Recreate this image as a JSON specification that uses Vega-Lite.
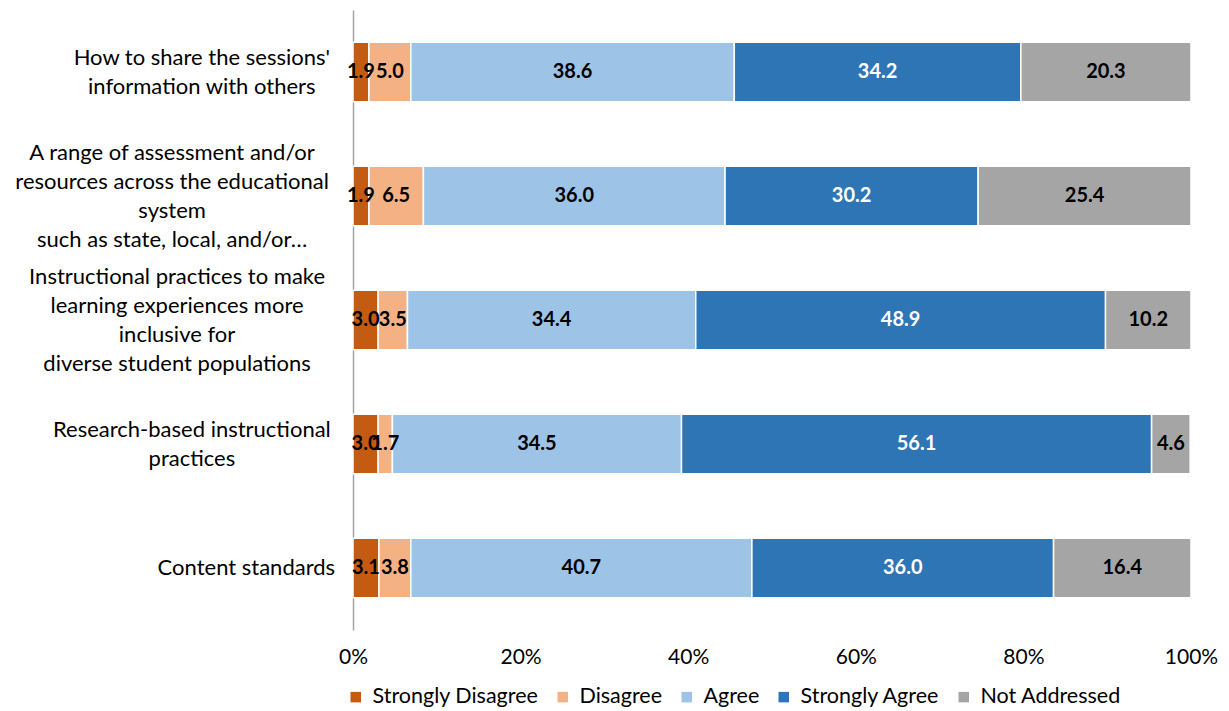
{
  "$schema": "https://vega.github.io/schema/vega-lite/v6.json",
  "autosize": {"type": "none"},
  "padding": {"left": 353, "top": 10, "right": 38, "bottom": 81},
  "width": 838,
  "height": 620,
  "background": "white",
  "config": {
    "view": {"stroke": null},
    "font": "Lato",
    "axis": {"labelFont": "Lato", "labelColor": "#000000"},
    "legend": {"labelFont": "Lato"}
  },
  "data": {
    "values": [
      {"q": "How to share the sessions'|information with others", "cat": "Strongly Disagree", "k": 1, "v": 1.9},
      {"q": "How to share the sessions'|information with others", "cat": "Disagree", "k": 2, "v": 5.0},
      {"q": "How to share the sessions'|information with others", "cat": "Agree", "k": 3, "v": 38.6},
      {"q": "How to share the sessions'|information with others", "cat": "Strongly Agree", "k": 4, "v": 34.2},
      {"q": "How to share the sessions'|information with others", "cat": "Not Addressed", "k": 5, "v": 20.3},
      {"q": "A range of assessment and/or|resources across the educational|system|such as state, local, and/or…", "cat": "Strongly Disagree", "k": 1, "v": 1.9},
      {"q": "A range of assessment and/or|resources across the educational|system|such as state, local, and/or…", "cat": "Disagree", "k": 2, "v": 6.5},
      {"q": "A range of assessment and/or|resources across the educational|system|such as state, local, and/or…", "cat": "Agree", "k": 3, "v": 36.0},
      {"q": "A range of assessment and/or|resources across the educational|system|such as state, local, and/or…", "cat": "Strongly Agree", "k": 4, "v": 30.2},
      {"q": "A range of assessment and/or|resources across the educational|system|such as state, local, and/or…", "cat": "Not Addressed", "k": 5, "v": 25.4},
      {"q": "Instructional practices to make|learning experiences more|inclusive for|diverse student populations", "cat": "Strongly Disagree", "k": 1, "v": 3.0},
      {"q": "Instructional practices to make|learning experiences more|inclusive for|diverse student populations", "cat": "Disagree", "k": 2, "v": 3.5},
      {"q": "Instructional practices to make|learning experiences more|inclusive for|diverse student populations", "cat": "Agree", "k": 3, "v": 34.4},
      {"q": "Instructional practices to make|learning experiences more|inclusive for|diverse student populations", "cat": "Strongly Agree", "k": 4, "v": 48.9},
      {"q": "Instructional practices to make|learning experiences more|inclusive for|diverse student populations", "cat": "Not Addressed", "k": 5, "v": 10.2},
      {"q": "Research-based instructional|practices", "cat": "Strongly Disagree", "k": 1, "v": 3.0},
      {"q": "Research-based instructional|practices", "cat": "Disagree", "k": 2, "v": 1.7},
      {"q": "Research-based instructional|practices", "cat": "Agree", "k": 3, "v": 34.5},
      {"q": "Research-based instructional|practices", "cat": "Strongly Agree", "k": 4, "v": 56.1},
      {"q": "Research-based instructional|practices", "cat": "Not Addressed", "k": 5, "v": 4.6},
      {"q": "Content standards", "cat": "Strongly Disagree", "k": 1, "v": 3.1},
      {"q": "Content standards", "cat": "Disagree", "k": 2, "v": 3.8},
      {"q": "Content standards", "cat": "Agree", "k": 3, "v": 40.7},
      {"q": "Content standards", "cat": "Strongly Agree", "k": 4, "v": 36.0},
      {"q": "Content standards", "cat": "Not Addressed", "k": 5, "v": 16.4}
    ]
  },
  "transform": [
    {"stack": "v", "groupby": ["q"], "sort": [{"field": "k", "order": "ascending"}], "as": ["x0", "x1"]},
    {"calculate": "(datum.x0 + datum.x1) / 2", "as": "xm"}
  ],
  "encoding": {
    "y": {
      "field": "q",
      "type": "nominal",
      "sort": null,
      "scale": {"paddingInner": 0.52, "paddingOuter": 0.26},
      "axis": {
        "title": null,
        "labelExpr": "split(datum.label, '|')",
        "labelFontSize": 22,
        "labelLineHeight": 29,
        "labelAlign": "center",
        "labelPadding": {"expr": "23 + 4.95 * max(length(split(datum.value, '|')[0]), length(split(datum.value, '|')[1] || ''), length(split(datum.value, '|')[2] || ''), length(split(datum.value, '|')[3] || ''))"},
        "labelOffset": {"expr": "-(length(split(datum.value, '|')) - 1) * 14.5"},
        "labelLimit": 400,
        "ticks": false,
        "domainColor": "#A6A6A6",
        "domainWidth": 1.5
      }
    }
  },
  "layer": [
    {
      "mark": {"type": "bar", "stroke": "white", "strokeWidth": 1.5},
      "encoding": {
        "x": {
          "field": "x0",
          "type": "quantitative",
          "scale": {"domain": [0, 100], "nice": false},
          "axis": {
            "title": null,
            "values": [0, 20, 40, 60, 80, 100],
            "labelExpr": "datum.value + '%'",
            "labelFontSize": 21,
            "labelPadding": 16,
            "labelFlush": false,
            "domain": false,
            "ticks": false,
            "grid": false
          }
        },
        "x2": {"field": "x1"},
        "color": {
          "field": "cat",
          "type": "nominal",
          "sort": ["Strongly Disagree", "Disagree", "Agree", "Strongly Agree", "Not Addressed"],
          "scale": {
            "domain": ["Strongly Disagree", "Disagree", "Agree", "Strongly Agree", "Not Addressed"],
            "range": ["#C55A11", "#F4B183", "#9DC3E6", "#2E75B6", "#A5A5A5"]
          },
          "legend": {
            "title": null,
            "orient": "none",
            "direction": "horizontal",
            "legendX": -8,
            "legendY": 676,
            "symbolType": "square",
            "symbolSize": 110,
            "symbolStrokeWidth": 0,
            "labelFontSize": 21.5,
            "labelOffset": 6,
            "columnPadding": 13,
            "labelLimit": 300
          }
        }
      }
    },
    {
      "mark": {"type": "text", "fontSize": 20, "fontWeight": "bold", "align": "center", "baseline": "middle"},
      "encoding": {
        "x": {"field": "xm", "type": "quantitative"},
        "text": {"field": "v", "type": "quantitative", "format": ".1f"},
        "color": {
          "condition": {"test": "datum.cat === 'Strongly Agree'", "value": "white"},
          "value": "black"
        }
      }
    }
  ]
}
